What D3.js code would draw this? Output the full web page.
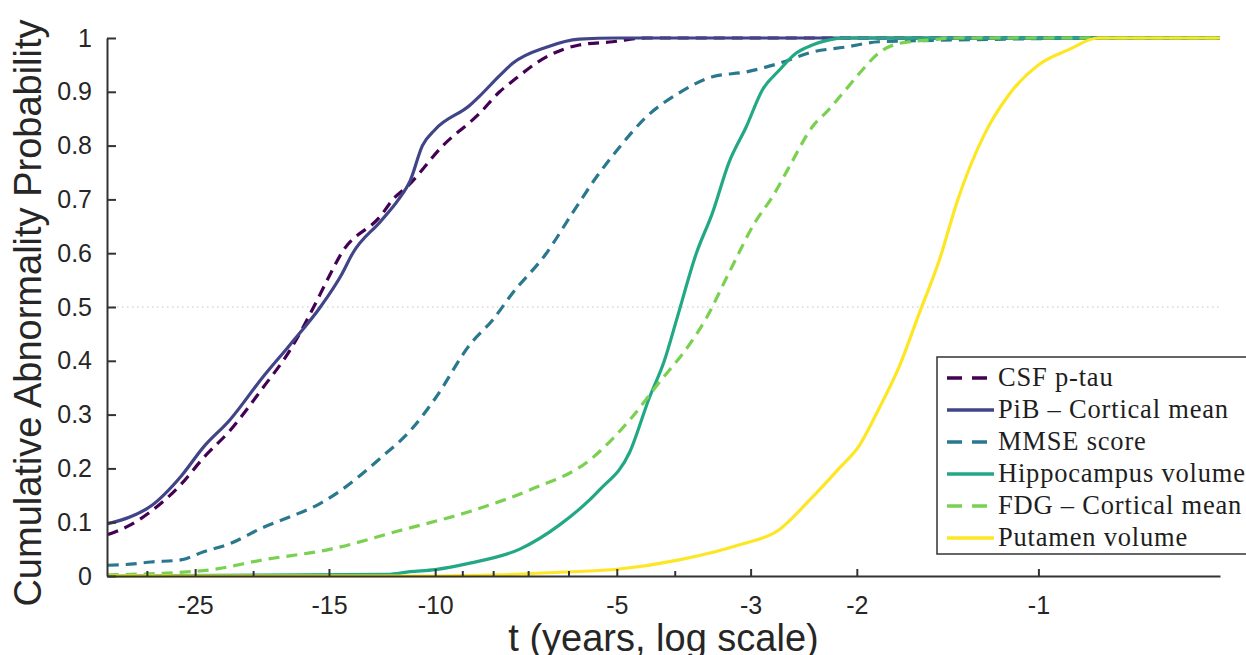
<!DOCTYPE html>
<html>
<head>
<meta charset="utf-8">
<script src="https://cdn.jsdelivr.net/npm/d3@7/dist/d3.min.js"></script>
<style>
  html, body { margin: 0; padding: 0; background: #fff; overflow: hidden; }
  svg { display: block; }
</style>
</head>
<body>
<svg id="chart" width="1246" height="655"></svg>
<script>
// Time to abnormality (years, negative = before onset) and cumulative probability per biomarker
const csfT = [-34.9, -32.0, -29.6, -26.4, -24.2, -21.9, -19.3, -17.4, -15.9, -15.1, -14.3, -12.3, -11.75, -11.1, -9.71, -8.44, -7.82, -7.44, -6.54, -5.77, -5.08, -4.47, -0.5];
const csfP = [0.077, 0.095, 0.12, 0.17, 0.22, 0.27, 0.35, 0.42, 0.50, 0.55, 0.60, 0.67, 0.70, 0.725, 0.80, 0.86, 0.90, 0.92, 0.965, 0.987, 0.993, 1.0, 1.0];

const pibT = [-34.9, -32.0, -29.6, -26.4, -24.2, -21.9, -19.3, -17.4, -15.5, -14.3, -13.7, -12.3, -11.5, -11.0, -10.5, -10.0, -8.76, -8.44, -7.82, -7.44, -6.54, -5.77, -5.0, -0.5];
const pibP = [0.097, 0.11, 0.13, 0.185, 0.24, 0.29, 0.37, 0.43, 0.50, 0.56, 0.60, 0.66, 0.70, 0.735, 0.80, 0.83, 0.875, 0.892, 0.93, 0.953, 0.983, 0.998, 1.0, 1.0];

const mmseT = [-34.9, -32.0, -29.6, -26.4, -24.2, -21.9, -19.3, -17.4, -15.5, -14.3, -12.3, -11.0, -10.0, -8.76, -8.03, -7.44, -6.54, -5.92, -5.40, -4.95, -4.47, -3.94, -3.47, -3.05, -2.69, -2.37, -2.09, -1.84, -1.58, -1.12, -0.8, -0.5];
const mmseP = [0.02, 0.022, 0.026, 0.03, 0.045, 0.06, 0.09, 0.11, 0.135, 0.16, 0.22, 0.27, 0.33, 0.43, 0.476, 0.526, 0.60, 0.675, 0.742, 0.797, 0.853, 0.898, 0.928, 0.937, 0.953, 0.974, 0.983, 0.993, 0.995, 0.998, 1.0, 1.0];

const hippoT = [-34.9, -12.0, -11.0, -10.0, -8.76, -7.24, -6.22, -5.34, -4.76, -4.42, -4.17, -3.98, -3.69, -3.47, -3.26, -3.05, -2.87, -2.69, -2.52, -2.37, -2.23, -2.09, -0.5];
const hippoP = [0.0, 0.003, 0.008, 0.012, 0.024, 0.05, 0.095, 0.16, 0.23, 0.33, 0.40, 0.476, 0.60, 0.675, 0.768, 0.835, 0.903, 0.94, 0.972, 0.987, 0.996, 1.0, 1.0];

const fdgT = [-34.9, -24.2, -19.3, -14.9, -11.4, -8.76, -6.97, -5.55, -4.76, -4.25, -3.79, -3.55, -3.26, -2.94, -2.76, -2.59, -2.37, -2.23, -2.09, -1.96, -1.84, -1.70, -1.46, -1.41, -0.5];
const fdgP = [0.002, 0.01, 0.03, 0.05, 0.085, 0.12, 0.16, 0.215, 0.29, 0.36, 0.43, 0.48, 0.563, 0.66, 0.705, 0.76, 0.835, 0.866, 0.903, 0.94, 0.972, 0.99, 0.998, 1.0, 1.0];

const putT = [-34.9, -10.0, -7.82, -6.22, -4.95, -3.94, -3.13, -2.69, -2.40, -2.14, -1.98, -1.84, -1.70, -1.58, -1.46, -1.36, -1.23, -1.12, -1.0, -0.892, -0.796, -0.5];
const putP = [0.0, 0.0, 0.002, 0.007, 0.013, 0.03, 0.058, 0.086, 0.14, 0.20, 0.243, 0.31, 0.39, 0.485, 0.587, 0.70, 0.82, 0.894, 0.95, 0.978, 1.0, 1.0];

const seriesNames = ["CSF p-tau", "PiB \u2013 Cortical mean", "MMSE score", "Hippocampus volume", "FDG \u2013 Cortical mean", "Putamen volume"];
const seriesColors = ["#440154", "#414487", "#2a788e", "#22a884", "#7ad151", "#fde725"];
const seriesDashed = [true, false, true, false, true, false];
const seriesT = [csfT, pibT, mmseT, hippoT, fdgT, putT];
const seriesP = [csfP, pibP, mmseP, hippoP, fdgP, putP];

const xTickValues = [-25, -15, -10, -5, -3, -2, -1];
const xMinorValues = [-30, -20, -9, -8, -7, -6, -4];
const yTickValues = [0, 0.1, 0.2, 0.3, 0.4, 0.5, 0.6, 0.7, 0.8, 0.9, 1];

const svg = d3.select("#chart");
const plotLeft = 107, plotRight = 1220, plotTop = 38, plotBottom = 576;

// log scale on the magnitude of t, increasing time to the right
const x = d3.scaleLog().domain([35, 0.5]).range([plotLeft, plotRight]);
const xt = t => x(-t);
const y = d3.scaleLinear().domain([0, 1]).range([plotBottom, plotTop]);

const axisFont = "'Liberation Sans', Arial, Helvetica, sans-serif";
const axisColor = "#333";
const textColor = "#262626";

// reference line at probability 0.5
svg.append("line")
  .attr("x1", plotLeft).attr("x2", plotRight)
  .attr("y1", y(0.5)).attr("y2", y(0.5))
  .attr("stroke", "#c4c4c4").attr("stroke-width", 1)
  .attr("stroke-dasharray", "1.5,3.5");

// curves
const line = d3.line().x(d => xt(d[0])).y(d => y(d[1])).curve(d3.curveMonotoneX);
seriesT.forEach((ts, i) => {
  const pts = ts.map((t, j) => [t, seriesP[i][j]]);
  svg.append("path")
    .attr("d", line(pts))
    .attr("fill", "none")
    .attr("stroke", seriesColors[i])
    .attr("stroke-width", 3.2)
    .attr("stroke-linejoin", "round")
    .attr("stroke-dasharray", seriesDashed[i] ? "11,7" : null);
});

// x axis
const xAxis = d3.axisBottom(x)
  .tickValues(xTickValues.map(v => -v))
  .tickFormat(v => String(-v))
  .tickSizeInner(-7).tickSizeOuter(0).tickPadding(20);
const gx = svg.append("g").attr("transform", `translate(0,${plotBottom})`).call(xAxis);
gx.select(".domain").attr("stroke", axisColor).attr("stroke-width", 2);
gx.selectAll(".tick line").attr("stroke", axisColor).attr("stroke-width", 2);
gx.selectAll(".tick text").attr("font-family", axisFont).attr("font-size", 25).attr("fill", textColor);

svg.append("g").selectAll("line").data(xMinorValues).join("line")
  .attr("x1", d => xt(d)).attr("x2", d => xt(d))
  .attr("y1", plotBottom).attr("y2", plotBottom - 5)
  .attr("stroke", axisColor).attr("stroke-width", 2);

// y axis
const yAxis = d3.axisLeft(y)
  .tickValues(yTickValues)
  .tickFormat(v => v === 0 ? "0" : v === 1 ? "1" : d3.format(".1f")(v))
  .tickSizeInner(-9).tickSizeOuter(0).tickPadding(15);
const gy = svg.append("g").attr("transform", `translate(${plotLeft},0)`).call(yAxis);
gy.select(".domain").attr("stroke", axisColor).attr("stroke-width", 2);
gy.selectAll(".tick line").attr("stroke", axisColor).attr("stroke-width", 2);
gy.selectAll(".tick text").attr("font-family", axisFont).attr("font-size", 25).attr("fill", textColor);

// axis titles
svg.append("text")
  .attr("x", (plotLeft + plotRight) / 2).attr("y", 651)
  .attr("text-anchor", "middle")
  .attr("font-family", axisFont).attr("font-size", 38).attr("fill", textColor)
  .text("t (years, log scale)");

svg.append("text")
  .attr("transform", "translate(41,313) rotate(-90)")
  .attr("text-anchor", "middle")
  .attr("font-family", axisFont).attr("font-size", 38).attr("fill", textColor)
  .text("Cumulative Abnormality Probability");

// legend
const lg = svg.append("g").attr("transform", "translate(937,357)");
lg.append("rect")
  .attr("width", 330).attr("height", 197)
  .attr("fill", "#fff").attr("stroke", "#333").attr("stroke-width", 1.5);
const rowH = 32;
seriesNames.forEach((name, i) => {
  const cy = 21 + i * rowH;
  lg.append("line")
    .attr("x1", 10).attr("x2", 57).attr("y1", cy).attr("y2", cy)
    .attr("stroke", seriesColors[i]).attr("stroke-width", 3.5)
    .attr("stroke-dasharray", seriesDashed[i] ? "15,10" : null);
  lg.append("text")
    .attr("x", 61).attr("y", cy + 8)
    .attr("font-family", "'Liberation Serif', 'Times New Roman', serif")
    .attr("font-size", 26.5).attr("letter-spacing", 0.8).attr("fill", "#1e1e1e")
    .text(name);
});
</script>
</body>
</html>
